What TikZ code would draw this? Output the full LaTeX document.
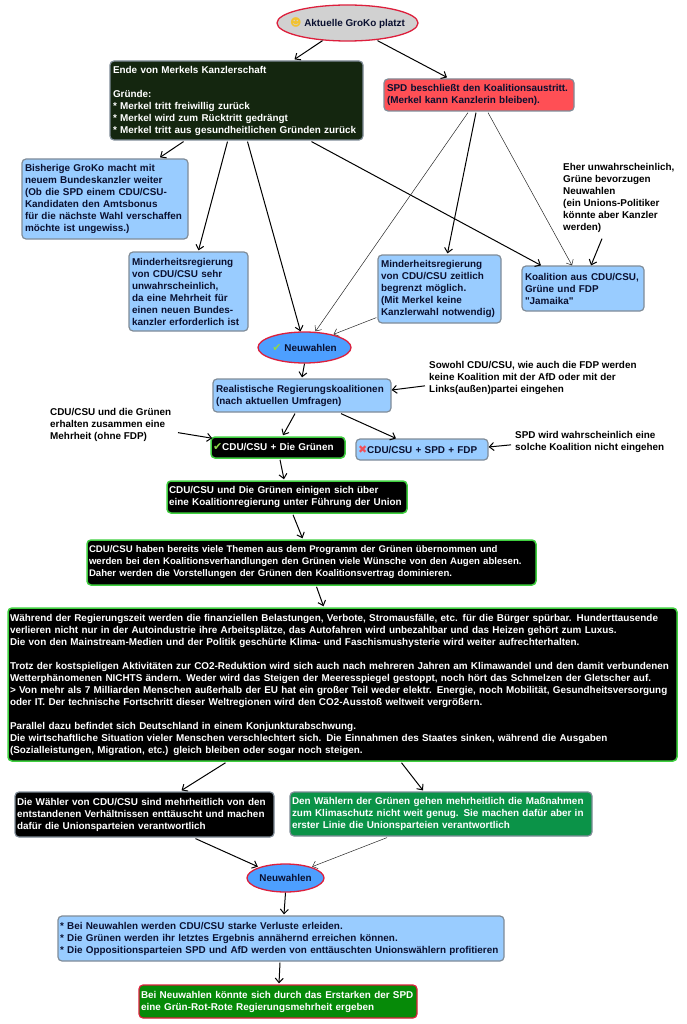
\documentclass[tikz,border=0pt]{standalone}
\usepackage{xcolor}
\usepackage{fontspec}
\setmainfont{Liberation Sans}[Ligatures=TeXOff]
\newfontfamily\symfont{DejaVu Sans}
\usetikzlibrary{calc,shapes.geometric,arrows.meta}
\definecolor{boxblue}{HTML}{99CCFF}
\definecolor{ellblue}{HTML}{4D9FFF}
\definecolor{spdred}{HTML}{FF4F55}
\definecolor{darkgreen}{HTML}{14260F}
\definecolor{glowgreen}{HTML}{3FD03F}
\definecolor{waehlgreen}{HTML}{0B9348}
\definecolor{endgreen}{HTML}{068A08}
\definecolor{ringred}{HTML}{DD1F3C}
\definecolor{edgegray}{HTML}{808C98}
\definecolor{inkblue}{HTML}{0A1030}
\definecolor{checkgreen}{HTML}{8FD84A}
\definecolor{crossred}{HTML}{F0505A}
\definecolor{smiley}{HTML}{F2C230}
\newcommand{\checkicon}{\textcolor{checkgreen}{\fontsize{11}{12}\selectfont\symfont\char"2714}}
\newcommand{\crossicon}{\textcolor{crossred}{\fontsize{11}{12}\selectfont\symfont\char"2716}}
\tikzset{
  flow/.style={-{Straight Barb[length=4.5pt,width=8pt]},black,line width=1pt},
  thinflow/.style={-{Straight Barb[length=4.5pt,width=8pt]},black!85,line width=.5pt},
  box/.style={rectangle,rounded corners=4pt,line width=1.2pt,align=left,inner sep=0pt,
    font=\fontsize{9.9}{12}\selectfont\bfseries},
  bluebox/.style={box,fill=boxblue,draw=edgegray,text=inkblue},
  blackbox/.style={box,fill=black,draw=glowgreen,text=white,line width=1.5pt},
  ell/.style={ellipse,line width=1.3pt,draw=ringred,inner sep=0pt,
    font=\fontsize{9.9}{12}\selectfont\bfseries,text=inkblue},
  note/.style={align=left,inner sep=0pt,text=black,
    font=\fontsize{9.9}{12}\selectfont\bfseries},
}
\begin{document}
\begin{tikzpicture}[x=1pt,y=-1pt]
\useasboundingbox (0,0) rectangle (687,1024);

% top of the tree
\node[ell,fill=black!18,minimum width=141pt,minimum height=36pt] (top) at (347.5,23)
  {\makebox[90pt][c]{\textcolor{smiley}{\fontsize{11}{12}\selectfont\symfont\char"263B}\ Aktuelle GroKo platzt}};
\node[box,fill=darkgreen,draw=edgegray,text=white,minimum width=253pt,minimum height=79pt,text width=247pt] (ende) at (236.5,100.5)
  {Ende von Merkels Kanzlerschaft\\[12pt]Gründe:\\{}* Merkel tritt freiwillig zurück\\{}* Merkel wird zum Rücktritt gedrängt\\{}* Merkel tritt aus gesundheitlichen Gründen zurück};
\node[box,fill=spdred,draw=edgegray,text=inkblue,minimum width=190pt,minimum height=32pt,text width=184pt] (spd) at (479,95)
  {SPD beschließt den Koalitionsaustritt.\\(Merkel kann Kanzlerin bleiben).};

% what can follow
\node[bluebox,minimum width=166pt,minimum height=80pt,text width=160pt] (groko) at (105,199)
  {Bisherige GroKo macht mit\\neuem Bundeskanzler weiter\\(Ob die SPD einem CDU/CSU-\\Kandidaten den Amtsbonus\\für die nächste Wahl verschaffen\\möchte ist ungewiss.)};
\node[bluebox,minimum width=119pt,minimum height=79pt,text width=113pt] (minder) at (188.5,291.5)
  {Minderheitsregierung\\von CDU/CSU sehr\\unwahrscheinlich,\\da eine Mehrheit für\\einen neuen Bundes-\\kanzler erforderlich ist};
\node[bluebox,minimum width=123pt,minimum height=68pt,text width=117pt] (zeitlich) at (439.5,289)
  {Minderheitsregierung\\von CDU/CSU zeitlich\\begrenzt möglich.\\(Mit Merkel keine\\Kanzlerwahl notwendig)};
\node[bluebox,minimum width=122pt,minimum height=45pt,text width=116pt] (jamaika) at (583,288.5)
  {Koalition aus CDU/CSU,\\Grüne und FDP\\"Jamaika"};
\node[note,anchor=north west] (jamnote) at (563,163)
  {Eher unwahrscheinlich,\\Grüne bevorzugen\\Neuwahlen\\(ein Unions-Politiker\\könnte aber Kanzler\\werden)};

\node[ell,fill=ellblue,minimum width=93pt,minimum height=31pt] (neu) at (304.5,347.5)
  {\checkicon\ Neuwahlen};

% coalitions
\node[bluebox,minimum width=178pt,minimum height=33pt,text width=172pt] (real) at (302,395.5)
  {Realistische Regierungskoalitionen\\(nach aktuellen Umfragen)};
\node[note,anchor=north west] (realnote) at (429,361)
  {Sowohl CDU/CSU, wie auch die FDP werden\\keine Koalition mit der AfD oder mit der\\Links(außen)partei eingehen};
\node[note,anchor=north west] (gruennote) at (50,408)
  {CDU/CSU und die Grünen\\erhalten zusammen eine\\Mehrheit (ohne FDP)};
\node[blackbox,minimum width=134pt,minimum height=21pt,text width=130pt] (gruen) at (278,447.5)
  {\checkicon CDU/CSU + Die Grünen};
\node[bluebox,minimum width=132pt,minimum height=21pt,text width=128pt] (ampel) at (422,449.5)
  {\crossicon CDU/CSU + SPD + FDP};
\node[note,anchor=north west] (ampelnote) at (515,431)
  {SPD wird wahrscheinlich eine\\solche Koalition nicht eingehen};

\node[blackbox,minimum width=240pt,minimum height=32pt,text width=236pt] (einig) at (287,497)
  {CDU/CSU und Die Grünen einigen sich über\\eine Koalitionregierung unter Führung der Union};
\node[blackbox,minimum width=449pt,minimum height=45pt,text width=445pt,font=\fontsize{9.6}{12}\selectfont\bfseries] (themen) at (311.5,562.5)
  {CDU/CSU haben bereits viele Themen aus dem Programm der Grünen übernommen und\\werden bei den Koalitionsverhandlungen den Grünen viele Wünsche von den Augen ablesen.\\Daher werden die Vorstellungen der Grünen den Koalitionsvertrag dominieren.};
\node[blackbox,minimum width=669pt,minimum height=153pt,text width=665pt] (zeit) at (342.5,684.5)
  {Während der Regierungszeit werden die finanziellen Belastungen, Verbote, Stromausfälle, etc. für die Bürger spürbar. Hunderttausende\\verlieren nicht nur in der Autoindustrie ihre Arbeitsplätze, das Autofahren wird unbezahlbar und das Heizen gehört zum Luxus.\\Die von den Mainstream-Medien und der Politik geschürte Klima- und Faschismushysterie wird weiter aufrechterhalten.\\[12pt]Trotz der kostspieligen Aktivitäten zur CO2-Reduktion wird sich auch nach mehreren Jahren am Klimawandel und den damit verbundenen\\Wetterphänomenen NICHTS ändern. Weder wird das Steigen der Meeresspiegel gestoppt, noch hört das Schmelzen der Gletscher auf.\\> Von mehr als 7 Milliarden Menschen außerhalb der EU hat ein großer Teil weder elektr. Energie, noch Mobilität, Gesundheitsversorgung\\oder IT. Der technische Fortschritt dieser Weltregionen wird den CO2-Ausstoß weltweit vergrößern.\\[12pt]Parallel dazu befindet sich Deutschland in einem Konjunkturabschwung.\\Die wirtschaftliche Situation vieler Menschen verschlechtert sich. Die Einnahmen des Staates sinken, während die Ausgaben\\(Sozialleistungen, Migration, etc.) gleich bleiben oder sogar noch steigen.};

% voters
\node[box,fill=black,draw=edgegray,text=white,minimum width=259pt,minimum height=45pt,text width=255pt] (union) at (144.5,814.5)
  {Die Wähler von CDU/CSU sind mehrheitlich von den\\entstandenen Verhältnissen enttäuscht und machen\\dafür die Unionsparteien verantwortlich};
\node[box,fill=waehlgreen,draw=edgegray,text=white,minimum width=302pt,minimum height=44pt,text width=298pt] (gruenw) at (441,814)
  {Den Wählern der Grünen gehen mehrheitlich die Maßnahmen\\zum Klimaschutz nicht weit genug. Sie machen dafür aber in\\erster Linie die Unionsparteien verantwortlich};
\node[ell,fill=ellblue,minimum width=77pt,minimum height=28pt] (neuzwei) at (285.5,878) {Neuwahlen};
\node[bluebox,minimum width=446pt,minimum height=45pt,text width=442pt] (folgen) at (281,938.5)
  {{}* Bei Neuwahlen werden CDU/CSU starke Verluste erleiden.\\{}* Die Grünen werden ihr letztes Ergebnis annähernd erreichen können.\\{}* Die Oppositionsparteien SPD und AfD werden von enttäuschten Unionswählern profitieren};
\node[box,fill=endgreen,draw=ringred,text=white,minimum width=278pt,minimum height=33pt,text width=274pt] (rrg) at (278,1001.5)
  {Bei Neuwahlen könnte sich durch das Erstarken der SPD\\eine Grün-Rot-Rote Regierungsmehrheit ergeben};

% This draws the arrows.
\draw[flow] ($(top.south)+(-25,-1)$) -- ($(ende.north)+(58,-1)$);
\draw[flow] ($(top.south)+(30,-1)$) -- ($(spd.north)+(-32,-1)$);
\draw[flow] ($(ende.south)+(-53,1)$) -- ($(groko.north)+(55,-1)$);
\draw[flow] ($(ende.south)+(-9,1)$) -- ($(minder.north)+(10,-1)$);
\draw[flow] ($(ende.south)+(11,1)$) -- ($(neu.north)+(-4,0)$);
\draw[flow] ($(ende.south)+(75,1)$) -- ($(jamaika.north)+(-42,0)$);
\draw[thinflow] ($(spd.south)+(-11,1)$) -- ($(neu.north)+(11,0)$);
\draw[flow] ($(spd.south)+(-3,1)$) -- ($(zeitlich.north)+(8,-1)$);
\draw[thinflow] ($(spd.south)+(9,1)$) -- ($(jamaika.north)+(-11,0)$);
\draw[flow] ($(jamnote.south west)+(39,6)$) -- ($(jamaika.north)+(8,0)$);
\draw[thinflow] ($(zeitlich.south west)+(-1,-6)$) -- ($(neu.north)+(29,3)$);
\draw[flow] (neu.south) -- ($(real.north)+(0,-1)$);
\draw[flow] ($(realnote.west)+(-4,8)$) -- (real.east |- 0,390);
\draw[flow] ($(real.south)+(-7,1)$) -- ($(gruen.north)+(5,-1)$);
\draw[flow] ($(real.south)+(39,1)$) -- ($(ampel.north)+(-26,0)$);
\draw[flow] ($(gruennote.south west)+(128,-9)$) -- ($(gruen.north west)+(2,2)$);
\draw[flow] ($(ampelnote.west)+(-4,3)$) -- (ampel.east |- 0,447);
\draw[flow] ($(gruen.south)+(2,1)$) -- ($(einig.north)+(-3,-1)$);
\draw[flow] ($(einig.south)+(6,1)$) -- ($(themen.north)+(-9,-1)$);
\draw[flow] ($(themen.south)+(5,1)$) -- ($(zeit.north)+(-19,-1)$);
\draw[flow] ($(zeit.south)+(-117,1)$) -- ($(union.north)+(37,-1)$);
\draw[flow] ($(zeit.south)+(59,1)$) -- ($(gruenw.north)+(-18,-1)$);
\draw[flow] ($(union.south)+(51,1)$) -- ($(neuzwei.north west)+(0,-1)$);
\draw[thinflow] ($(gruenw.south)+(-54,1)$) -- ($(neuzwei.north east)+(-1,-1)$);
\draw[flow] (neuzwei.south) -- ($(folgen.north)+(3,-1)$);
\draw[flow] ($(folgen.south)+(-1,1)$) -- ($(rrg.north)+(1,-1)$);
\end{tikzpicture}
\end{document}
